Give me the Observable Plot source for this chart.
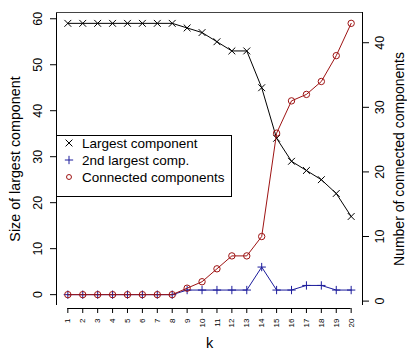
<!DOCTYPE html>
<html><head><meta charset="utf-8">
<script src="https://cdn.jsdelivr.net/npm/d3@7"></script>
<script src="https://cdn.jsdelivr.net/npm/@observablehq/plot@0.6"></script>
<style>
html,body{margin:0;padding:0;background:#fff;}
#chart svg{display:block;}
</style></head><body><div id="chart"></div>
<script>
const k = [1,2,3,4,5,6,7,8,9,10,11,12,13,14,15,16,17,18,19,20];
const largest   = [59,59,59,59,59,59,59,59,58,57,55,53,53,45,34,29,27,25,22,17];
const second    = [0,0,0,0,0,0,0,0,1,1,1,1,1,6,1,1,2,2,1,1];
const connected = [1,1,1,1,1,1,1,1,2,3,5,7,7,10,26,31,32,34,38,43];
const leftTicks  = [0,10,20,30,40,50,60];
const rightTicks = [0,10,20,30,40];
const seriesNames = ["Largest component","2nd largest comp.","Connected components"];
const seriesSymbols = ["times","plus","circle"];
const seriesColors = ["#000000","#1c1c9c","#9e1313"];
const xTitle = "k";
const yTitle = "Size of largest component";
const y2Title = "Number of connected components";

const font = "'Liberation Sans', Arial, Helvetica, sans-serif";
function pad4(ext){const p=0.04*(ext[1]-ext[0]); return [ext[0]-p, ext[1]+p];}
const xDom = pad4(d3.extent(k));
const yDom = pad4(d3.extent([...largest, ...second]));
const rDom = pad4(d3.extent(connected));
const toLeft = d3.scaleLinear(rDom, yDom);

const rows = k.map((kk,i)=>({k:kk, largest:largest[i], second:second[i], cc: toLeft(connected[i])}));
const R = [3.2, 2.8, 3.2];

const plot = Plot.plot({
  width: 407, height: 350,
  marginLeft: 56, marginRight: 45, marginTop: 12, marginBottom: 45,
  x: {type: "linear", domain: xDom},
  y: {type: "linear", domain: yDom},
  style: {fontFamily: font, background: "white", color: "black"},
  marks: [
    Plot.ruleX([xDom[0], xDom[1]], {stroke: "black"}),
    Plot.ruleY([yDom[1]], {stroke: "#444"}),
    Plot.ruleY([yDom[0]], {x1: k[0], x2: k[k.length-1], dy: 3, stroke: "black"}),
    Plot.axisX({ticks: k, tickSize: 5, dy: 3, tickFormat: () => "", label: null}),
    Plot.text(k, {x: d => d, text: d => String(d), frameAnchor: "bottom", dy: 13, rotate: -90, textAnchor: "end", lineAnchor: "middle", fontSize: 8}),
    Plot.axisY({anchor: "left", ticks: leftTicks, tickSize: 6, tickFormat: () => "", label: null}),
    Plot.text(leftTicks, {y: d => d, text: d => String(d), frameAnchor: "left", dx: -19, rotate: -90, textAnchor: "middle", lineAnchor: "middle", fontSize: 12.5}),
    Plot.axisY({anchor: "right", ticks: rightTicks.map(toLeft), tickSize: 6, tickFormat: () => "", label: null}),
    Plot.text(rightTicks, {y: d => toLeft(d), text: d => String(d), frameAnchor: "right", dx: 17, rotate: -90, textAnchor: "middle", lineAnchor: "middle", fontSize: 12.5}),
    Plot.text([yTitle], {text: d => d, frameAnchor: "left", dx: -41, rotate: -90, textAnchor: "middle", lineAnchor: "middle", fontSize: 14.3}),
    Plot.text([y2Title], {text: d => d, frameAnchor: "right", dx: 37, rotate: -90, textAnchor: "middle", lineAnchor: "middle", fontSize: 14}),
    Plot.text([xTitle], {text: d => d, frameAnchor: "bottom", dy: 38, textAnchor: "middle", lineAnchor: "middle", fontSize: 14.5}),
    Plot.line(rows, {x: "k", y: "largest", stroke: seriesColors[0], strokeWidth: 1}),
    Plot.dot(rows, {x: "k", y: "largest", symbol: seriesSymbols[0], r: R[0], stroke: seriesColors[0], strokeWidth: 1}),
    Plot.line(rows, {x: "k", y: "second", stroke: seriesColors[1], strokeWidth: 1}),
    Plot.dot(rows, {x: "k", y: "second", symbol: seriesSymbols[1], r: R[1], stroke: seriesColors[1], strokeWidth: 1}),
    Plot.line(rows, {x: "k", y: "cc", stroke: seriesColors[2], strokeWidth: 1}),
    Plot.dot(rows, {x: "k", y: "cc", symbol: seriesSymbols[2], r: R[2], stroke: seriesColors[2], strokeWidth: 1, fill: "none"})
  ]
});
document.getElementById("chart").appendChild(plot);

// legend
const svg = d3.select(plot);
const lg = svg.append("g").attr("font-family", font).attr("font-size", 13.5).attr("text-anchor", "start");
lg.append("rect").attr("x", 56.5).attr("y", 135.5).attr("width", 175).attr("height", 61)
  .attr("fill", "white").attr("stroke", "black");
const symMap = {times: d3.symbolTimes, plus: d3.symbolPlus, circle: d3.symbolCircle};
seriesNames.forEach((name, i) => {
  const cy = 143 + i * 17;
  lg.append("path")
    .attr("d", d3.symbol(symMap[seriesSymbols[i]], Math.PI * R[i] * R[i] * (i === 2 ? 0.6 : 1))())
    .attr("transform", `translate(69,${cy})`)
    .attr("fill", "none").attr("stroke", seriesColors[i]).attr("stroke-width", 1);
  lg.append("text").attr("x", 82).attr("y", cy).attr("dy", "0.35em").attr("text-anchor", "start")
    .attr("fill", "black").text(name);
});
</script></body></html>
